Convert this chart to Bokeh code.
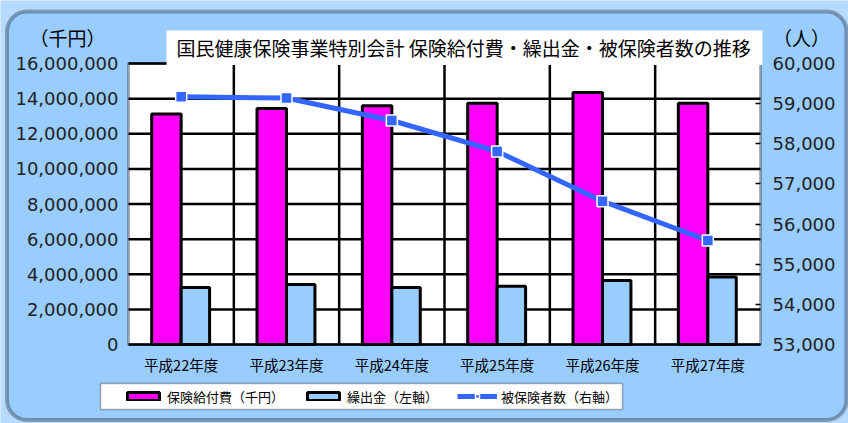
from bokeh.plotting import figure
from bokeh.models import (Range1d, LinearAxis, NumeralTickFormatter, FixedTicker,
                          BoxAnnotation, Label, Legend, LegendItem, ColumnDataSource)
from bokeh.transform import dodge
from bokeh.embed import file_html
from bokeh.resources import INLINE

# ---- data ----
years = ["平成22年度", "平成23年度", "平成24年度", "平成25年度", "平成26年度", "平成27年度"]
benefits = [13130000, 13440000, 13600000, 13730000, 14350000, 13730000]   # 保険給付費（千円）
transfers = [3240000, 3410000, 3240000, 3310000, 3650000, 3840000]        # 繰出金（左軸）
insured = [59170, 59140, 58580, 57810, 56570, 55590]                      # 被保険者数（右軸）
left_ticks = [0, 2000000, 4000000, 6000000, 8000000, 10000000, 12000000, 14000000, 16000000]
right_ticks = [53000, 54000, 55000, 56000, 57000, 58000, 59000, 60000]

title_text = "国民健康保険事業特別会計 保険給付費・繰出金・被保険者数の推移"
left_unit = "（千円）"
right_unit = "（人）"
labels = ["保険給付費（千円）", "繰出金（左軸）", "被保険者数（右軸）"]

# ---- geometry (pixels of the 848x423 canvas) ----
W, H = 848, 423
PL, PR, PT, PB = 128, 760, 63, 344     # plot area box
BG = "#99CCFF"
MAG = "#FF00FF"
LINE = "#3366FF"
JP = "Noto Sans CJK JP"
NUM = "DejaVu Sans"

n = len(years)
xc = [i + 0.5 for i in range(n)]
xbounds = list(range(1, n))

# ranges chosen so that the data box maps to the plot area while the frame fills the canvas
xpp = n / (PR - PL)
x_range = Range1d(-PL * xpp, n + (W - PR) * xpp)
lmin, lmax = left_ticks[0], left_ticks[-1]
ypp = (lmax - lmin) / (PB - PT)
y_range = Range1d(lmin - (H - PB) * ypp, lmax + PT * ypp)
rmin, rmax = right_ticks[0], right_ticks[-1]
rpp = (rmax - rmin) / (PB - PT)
r_range = Range1d(rmin - (H - PB) * rpp, rmax + PT * rpp)

src = ColumnDataSource(dict(x=xc, year=years, benefits=benefits,
                            transfers=transfers, insured=insured))

p = figure(width=W, height=H, x_range=x_range, y_range=y_range, title=None,
           output_backend="svg", toolbar_location=None, min_border=0,
           x_axis_location=None, y_axis_location=None,
           border_fill_color=BG, background_fill_color=BG, outline_line_color=None)
p.extra_y_ranges = {"people": r_range}
for g in p.grid:
    g.visible = False

CU = dict(left_units="canvas", right_units="canvas", top_units="canvas", bottom_units="canvas")

# plot area background
p.add_layout(BoxAnnotation(left=0, right=n, bottom=lmin, top=lmax, fill_color="white",
                           fill_alpha=1, line_alpha=0, level="underlay"))

# grid lines
p.segment(x0=0, x1=n, y0=left_ticks, y1=left_ticks, line_color="black", line_width=2.5)
p.segment(x0=xbounds, x1=xbounds, y0=lmin, y1=lmax, line_color="black", line_width=2.5)

# bars and line
r1 = p.vbar(x=dodge("x", -0.14), top="benefits", width=0.28, source=src,
            fill_color=MAG, line_color="black", line_width=3)
r2 = p.vbar(x=dodge("x", 0.135), top="transfers", width=0.27, source=src,
            fill_color=BG, line_color="black", line_width=3)
r3 = p.line(x="x", y="insured", y_range_name="people", source=src,
            line_color=LINE, line_width=5)
r4 = p.scatter(x="x", y="insured", y_range_name="people", source=src, marker="square",
               size=11, fill_color=LINE, line_color="white", line_width=1.5)

# plot area outline
p.add_layout(BoxAnnotation(left=0, right=n, bottom=lmin, top=lmax, fill_alpha=0,
                           line_color="black", line_width=3, level="annotation"))

# axes (fixed inside the canvas-filling frame)
ya = LinearAxis(ticker=FixedTicker(ticks=left_ticks), formatter=NumeralTickFormatter(format="0,0"),
                fixed_location=0)
ya.major_tick_in = 0
ya.major_tick_out = 0
ya.major_tick_line_color = None
ya.minor_tick_line_color = None
ya.axis_line_color = None
ya.major_label_standoff = 10
ya.major_label_text_font = NUM
ya.major_label_text_font_size = "18px"
ya.major_label_text_color = "#222222"
p.add_layout(ya, "left")

ax2 = LinearAxis(y_range_name="people", ticker=FixedTicker(ticks=right_ticks),
                 formatter=NumeralTickFormatter(format="0,0"), fixed_location=n)
ax2.major_tick_in = 5
ax2.major_tick_out = 0
ax2.major_tick_line_color = "black"
ax2.major_tick_line_width = 1.5
ax2.minor_tick_line_color = None
ax2.axis_line_color = None
ax2.major_label_standoff = 12
ax2.major_label_text_font = NUM
ax2.major_label_text_font_size = "18px"
ax2.major_label_text_color = "#222222"
p.add_layout(ax2, "right")

xa = LinearAxis(ticker=FixedTicker(ticks=xc), fixed_location=lmin,
                major_label_overrides={xv: yl for xv, yl in zip(xc, years)})
xa.major_tick_in = 0
xa.major_tick_out = 0
xa.major_tick_line_color = None
xa.minor_tick_line_color = None
xa.axis_line_color = None
xa.major_label_standoff = 9
xa.major_label_text_font = JP
xa.major_label_text_font_size = "14.5px"
xa.major_label_text_color = "black"
p.add_layout(xa, "below")

# outer rounded frame
p.add_layout(BoxAnnotation(left=6.5 - 20, right=846 + 20, top=11 - 20, bottom=419.5 + 20, **CU,
                           fill_alpha=0, line_color="white", line_width=40, border_radius=40,
                           level="overlay"))
p.add_layout(BoxAnnotation(left=6.5, right=846, top=11, bottom=419.5, **CU,
                           fill_alpha=0, line_color="black", line_width=4, border_radius=20,
                           level="overlay"))

# title box
p.add_layout(BoxAnnotation(left=166, right=762, top=30, bottom=64.5, **CU,
                           fill_color="white", fill_alpha=1, line_alpha=0, level="overlay"))
p.add_layout(Label(x=176, y=47, x_units="canvas", y_units="canvas", text=title_text,
                   text_font=JP, text_font_size="19px", text_color="black",
                   text_baseline="middle", text_align="left", level="overlay"))

# unit labels
p.add_layout(Label(x=67, y=37, x_units="canvas", y_units="canvas", text=left_unit,
                   text_font=JP, text_font_size="19px", text_color="black",
                   text_baseline="middle", text_align="center", level="overlay"))
p.add_layout(Label(x=801, y=37, x_units="canvas", y_units="canvas", text=right_unit,
                   text_font=JP, text_font_size="19px", text_color="black",
                   text_baseline="middle", text_align="center", level="overlay"))

# legend box + legend
p.add_layout(BoxAnnotation(left=100, right=622, top=383, bottom=409, **CU,
                           fill_color="white", fill_alpha=1, line_color="black", line_width=1.5,
                           level="annotation"))
legend = Legend(items=[LegendItem(label=labels[0], renderers=[r1]),
                       LegendItem(label=labels[1], renderers=[r2]),
                       LegendItem(label=labels[2], renderers=[r3, r4])],
                orientation="horizontal", location=(123, 17), padding=0, margin=0,
                spacing=19, label_standoff=4, glyph_width=40, glyph_height=10,
                label_height=20, label_text_font=JP, label_text_font_size="13px",
                label_text_color="black", background_fill_alpha=0, border_line_alpha=0)
p.add_layout(legend)

open("out.html", "w").write(file_html(p, INLINE))
